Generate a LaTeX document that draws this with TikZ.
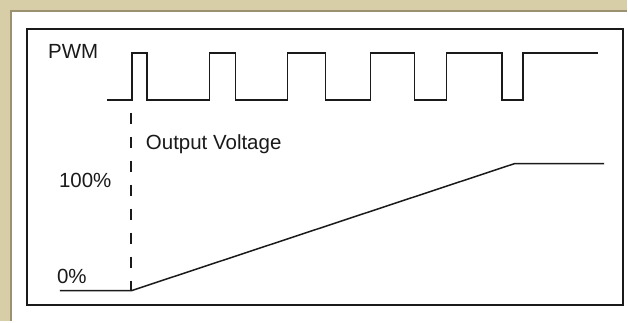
\documentclass[tikz,border=0pt]{standalone}
\usepackage{fontspec}
\setmainfont{Liberation Sans}
\usetikzlibrary{positioning}
\definecolor{framesand}{HTML}{D7CEA8}
\definecolor{frameedge}{HTML}{9C9272}
\definecolor{inkwave}{HTML}{1A1A1A}
\tikzset{
  lbl/.style={anchor=base west, inner sep=0pt, text=inkwave,
              font=\fontsize{20.5}{24}\selectfont},
  wave/.style={draw=inkwave, line width=1.5pt, line join=miter},
}

\begin{document}
\begin{tikzpicture}[x=1pt, y=-1pt]
  % sandy outer frame
  \fill[framesand] (0,0) rectangle (628,322);
  \fill[white] (12,12) rectangle (628,322);
  \draw[frameedge, line width=2pt] (11,322) -- (11,11) -- (628,11);
  \useasboundingbox (0,0) rectangle (628,322);
  % plot box
  \draw[inkwave, line width=2pt] (27,29) rectangle (624,305);
  % labels
  \node[lbl] (pwm) at (48,59) {PWM};
  \node[lbl] (vout) at (146,150) {Output Voltage};
  \node[lbl] (full) at (59,188) {100\%};
  \node[lbl] (zero) at (57,284) {0\%};
  % pwm signal
  \draw[wave] (107,100) -- (132,100) -- (132,53) -- (147,53) -- (147,100)
    -- (210,100) -- (210,53) -- (236,53) -- (236,100)
    -- (288,100) -- (288,53) -- (326,53) -- (326,100)
    -- (371,100) -- (371,53) -- (415,53) -- (415,100)
    -- (447,100) -- (447,53) -- (503,53) -- (503,100)
    -- (524,100) -- (524,53) -- (599,53);
  % start marker
  \draw[inkwave, line width=1.5pt, dash pattern=on 11pt off 13pt] (131,113) -- (131,291);
  % output ramp
  \draw[wave] (60,291) -- (132,291) -- (515,164) -- (605,164);
\end{tikzpicture}
\end{document}
